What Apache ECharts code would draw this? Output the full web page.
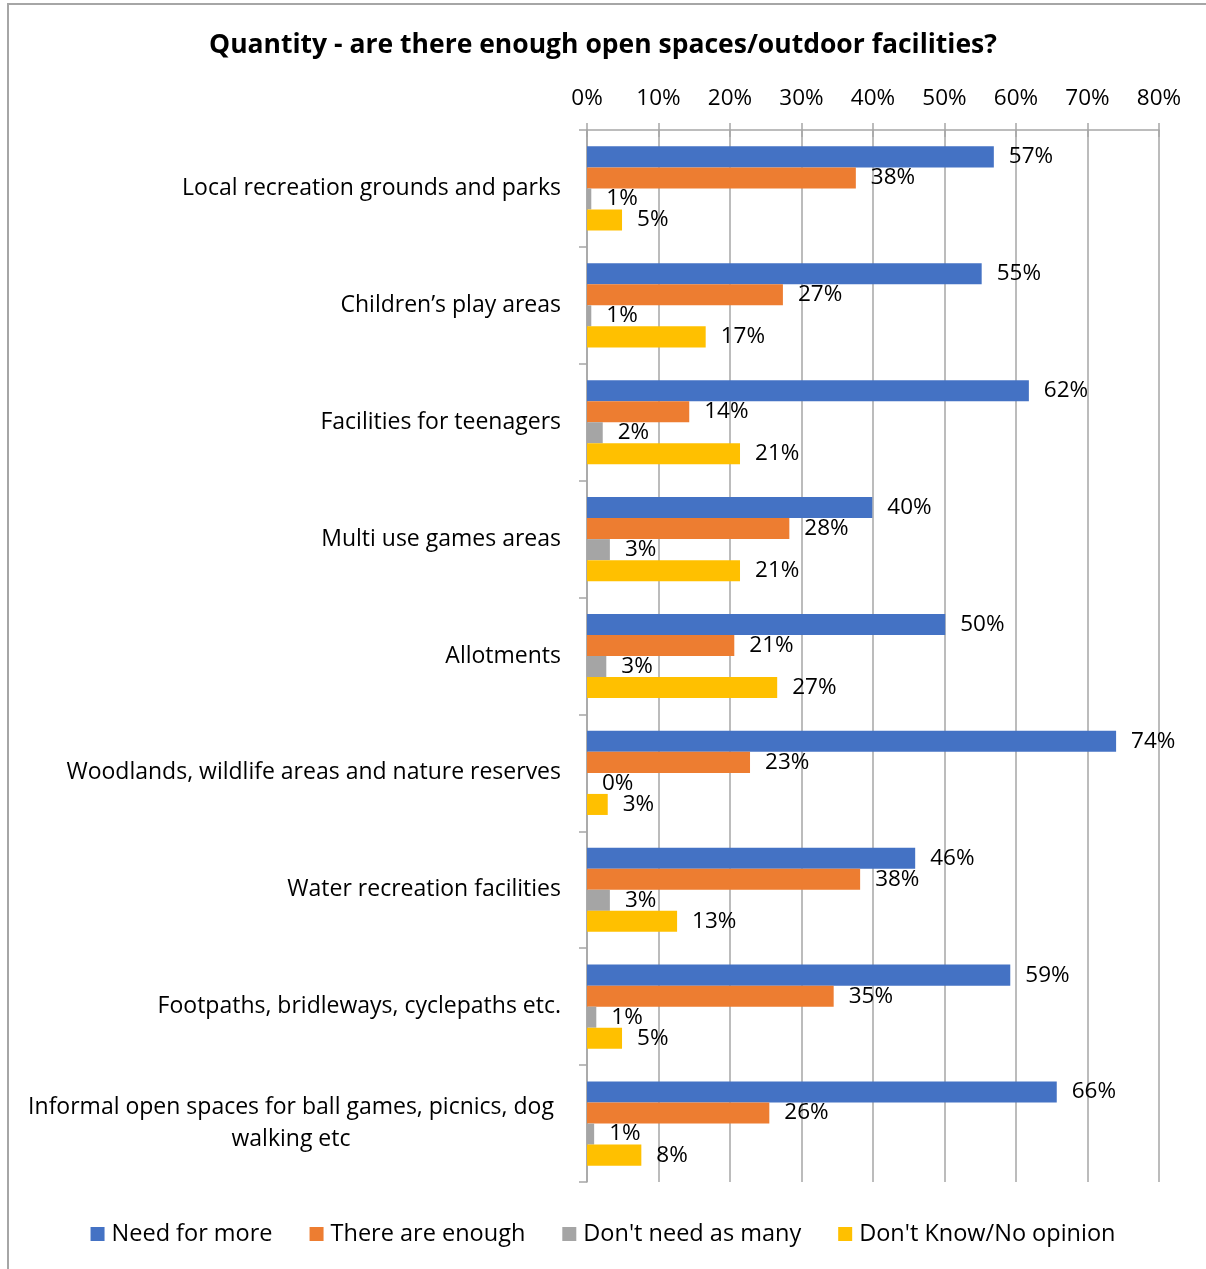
<!DOCTYPE html>
<html><head><meta charset="utf-8">
<script src="https://cdn.jsdelivr.net/npm/echarts@6/dist/echarts.min.js"></script>
<style>
html,body{margin:0;padding:0;background:#fff;}
#frame{position:absolute;left:7px;top:3px;width:1220px;height:1290px;border-left:2px solid #a6a6a6;border-top:2px solid #a6a6a6;box-sizing:border-box;}
#c{position:absolute;left:0;top:0;width:1206px;height:1269px;}
</style></head>
<body>
<div id="frame"></div>
<div id="c"></div>
<script>
const title = 'Quantity - are there enough open spaces/outdoor facilities?';
const categories = [
  'Local recreation grounds and parks',
  'Children\u2019s play areas',
  'Facilities for teenagers',
  'Multi use games areas',
  'Allotments',
  'Woodlands, wildlife areas and nature reserves',
  'Water recreation facilities',
  'Footpaths, bridleways, cyclepaths etc.',
  'Informal open spaces for ball games, picnics, dog walking etc'
];
const seriesNames = ['Need for more', 'There are enough', "Don't need as many", "Don't Know/No opinion"];
const needForMore = [56.9, 55.2, 61.8, 39.9, 50.1, 74.0, 45.9, 59.2, 65.7];
const thereAreEnough = [37.6, 27.4, 14.3, 28.3, 20.6, 22.8, 38.2, 34.5, 25.5];
const dontNeedAsMany = [0.6, 0.6, 2.2, 3.2, 2.7, 0.0, 3.2, 1.3, 1.0];
const dontKnow = [4.9, 16.6, 21.4, 21.4, 26.6, 2.9, 12.6, 4.9, 7.6];
const xTicks = [0, 10, 20, 30, 40, 50, 60, 70, 80];
const colors = ['#4472C4', '#ED7D31', '#A5A5A5', '#FFC000'];

const FONT = '"Open Sans", Lato, sans-serif';
const chart = echarts.init(document.getElementById('c'));
const values = [needForMore, thereAreEnough, dontNeedAsMany, dontKnow];

chart.setOption({
  animation: false,
  title: {
    text: title, left: 'center', top: 27,
    textStyle: {fontFamily: FONT, fontSize: 26.5, fontWeight: 'bold', color: '#000'}
  },
  legend: {
    bottom: 18, left: 'center', itemWidth: 14, itemHeight: 14, itemGap: 37,
    icon: 'rect',
    textStyle: {fontFamily: FONT, fontSize: 23.5, color: '#000', padding: [0, 0, 0, 2]},
    data: seriesNames
  },
  grid: {left: 587, right: 47, top: 130, bottom: 87},
  xAxis: [{
    type: 'value', position: 'top', min: xTicks[0], max: xTicks[xTicks.length - 1], interval: 10,
    axisLine: {show: true, lineStyle: {color: '#a6a6a6', width: 1.5}},
    axisTick: {show: true, length: 7, lineStyle: {color: '#a6a6a6', width: 1.5}},
    axisLabel: {formatter: v => v + '%', fontFamily: FONT, fontSize: 22.5, color: '#000', margin: 20},
    splitLine: {show: true, lineStyle: {color: '#a6a6a6', width: 1.5}}
  }, {
    type: 'value', position: 'top', min: xTicks[0], max: xTicks[xTicks.length - 1], interval: 10,
    axisLine: {show: false},
    axisTick: {show: true, inside: true, length: 7, lineStyle: {color: '#a6a6a6', width: 1.5}},
    axisLabel: {show: false},
    splitLine: {show: false}
  }],
  yAxis: {
    type: 'category', inverse: true, data: categories,
    axisLine: {show: true, lineStyle: {color: '#a6a6a6', width: 1.5}},
    axisTick: {show: true, length: 8, lineStyle: {color: '#a6a6a6', width: 1.5}},
    axisLabel: {
      fontFamily: FONT, fontSize: 23, color: '#000', margin: 26, align: 'right', lineHeight: 32,
      formatter: function (v) {
        if (v.length > 50) {
          const i = v.lastIndexOf(' dog') + 4;
          return '{c|' + v.slice(0, i) + '}\n{c|' + v.slice(i + 1) + '}';
        }
        return v;
      },
      rich: {c: {width: 540, align: 'center', fontFamily: FONT, fontSize: 23, color: '#000', lineHeight: 32}}
    }
  },
  series: seriesNames.map((name, k) => ({
    name: name, type: 'bar', data: values[k],
    itemStyle: {color: colors[k]},
    barGap: '0%', barCategoryGap: '28%',
    label: {
      show: true, position: 'right', distance: 15,
      formatter: p => Math.round(p.value) + '%',
      fontFamily: FONT, fontSize: 22.5, color: '#000'
    }
  }))
});
</script>
</body></html>
